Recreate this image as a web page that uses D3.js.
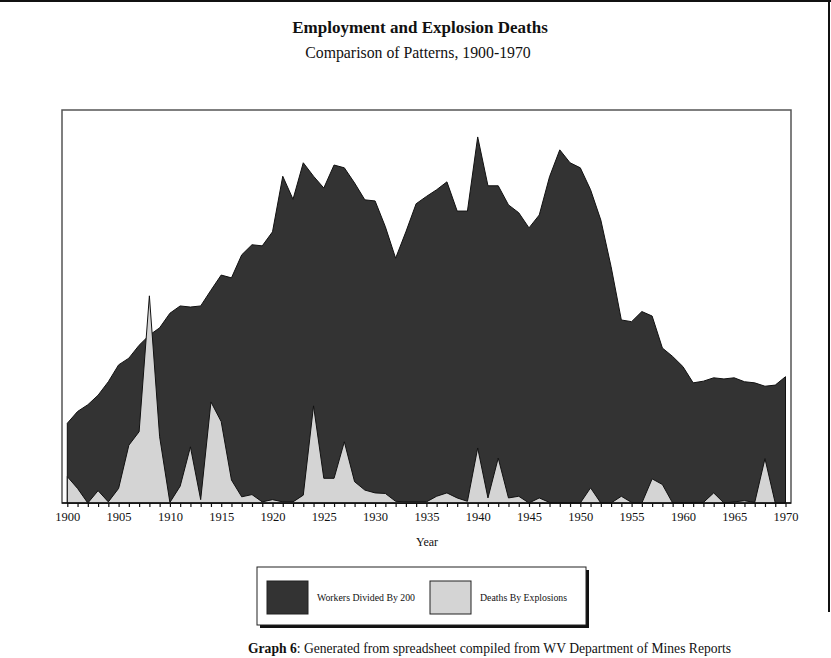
<!DOCTYPE html>
<html>
<head>
<meta charset="utf-8">
<script src="https://cdn.jsdelivr.net/npm/d3@7/dist/d3.min.js"></script>
<style>
  html, body { margin: 0; padding: 0; background: #fff; }
  svg { display: block; }
  text { font-family: "Liberation Serif", "Times New Roman", serif; fill: #111; }
</style>
</head>
<body>
<svg id="chart" width="831" height="658"></svg>
<script>
const years = d3.range(1900, 1971);
const workers = [142,163,175,192,216,246,258,281,299,312,
                 338,351,349,351,379,406,401,442,460,458,
                 483,582,541,606,582,561,602,597,570,540,
                 538,492,436,483,533,546,558,572,520,520,
                 652,565,565,531,517,490,513,581,629,606,
                 597,558,504,421,326,323,341,333,276,261,
                 243,214,217,223,221,223,216,214,208,210,225];
const deaths = [47,26,0,22,2,26,103,127,369,118,
                1,30,100,6,180,145,41,11,15,2,
                6,2,2,14,173,44,44,109,38,23,
                18,17,3,2,2,2,12,18,9,3,
                98,9,80,9,12,0,9,1,0,0,
                0,27,0,0,12,1,0,43,33,0,
                0,1,1,18,0,2,4,1,79,0,0];
const tickYears = d3.range(1900, 1971, 5);
const legendLabels = ["Workers Divided By 200", "Deaths By Explosions"];

const svg = d3.select("#chart");
const box = {left: 62, top: 110, right: 791, bottom: 503};

const x = d3.scaleLinear().domain([1900, 1970]).range([67.3, 785.5]);
const y = d3.scaleLinear().domain([0, 700]).range([box.bottom, box.top]);

// page frame lines
svg.append("line").attr("x1", 0).attr("x2", 831).attr("y1", 1).attr("y2", 1)
  .attr("stroke", "#111").attr("stroke-width", 2);
svg.append("line").attr("x1", 829).attr("x2", 829).attr("y1", 0).attr("y2", 612)
  .attr("stroke", "#111").attr("stroke-width", 2);

// titles
svg.append("text").attr("x", 420).attr("y", 33).attr("text-anchor", "middle")
  .attr("font-size", 17).attr("font-weight", "bold").text("Employment and Explosion Deaths");
svg.append("text").attr("x", 418).attr("y", 58).attr("text-anchor", "middle")
  .attr("font-size", 15.8).text("Comparison of Patterns, 1900-1970");

// plot box
svg.append("rect").attr("x", box.left).attr("y", box.top)
  .attr("width", box.right - box.left).attr("height", box.bottom - box.top)
  .attr("fill", "#fff").attr("stroke", "#555").attr("stroke-width", 1.5);

const areaW = d3.area().x((d, i) => x(years[i])).y0(y(0)).y1(d => y(d));
svg.append("path").datum(workers).attr("d", areaW)
  .attr("fill", "#333").attr("stroke", "#111").attr("stroke-width", 1);
svg.append("path").datum(deaths).attr("d", areaW)
  .attr("fill", "#d4d4d4").attr("stroke", "#111").attr("stroke-width", 1);

// axis
const axis = d3.axisBottom(x).tickValues(years).tickSize(4).tickPadding(5)
  .tickFormat(d => (tickYears.includes(d) ? d : ""));
const gA = svg.append("g").attr("transform", `translate(0,${box.bottom})`).call(axis);
gA.select(".domain").remove();
gA.selectAll(".tick line").attr("stroke", "#111").attr("stroke-width", 1.2);
gA.selectAll(".tick text").attr("font-size", 12.5)
  .attr("font-family", "Liberation Serif, serif").attr("fill", "#111");
svg.append("line").attr("x1", box.left).attr("x2", box.right)
  .attr("y1", box.bottom).attr("y2", box.bottom).attr("stroke", "#111").attr("stroke-width", 1.5);

svg.append("text").attr("x", 427).attr("y", 546).attr("text-anchor", "middle")
  .attr("font-size", 12).text("Year");

// legend
const lg = {left: 257, top: 567, right: 586, bottom: 625};
svg.append("rect").attr("x", lg.left + 3).attr("y", lg.top + 3)
  .attr("width", lg.right - lg.left).attr("height", lg.bottom - lg.top).attr("fill", "#111");
svg.append("rect").attr("x", lg.left).attr("y", lg.top)
  .attr("width", lg.right - lg.left).attr("height", lg.bottom - lg.top)
  .attr("fill", "#fff").attr("stroke", "#222").attr("stroke-width", 1);
const legFills = ["#333", "#d4d4d4"];
const swX = [267, 430];
legendLabels.forEach((lab, i) => {
  svg.append("rect").attr("x", swX[i]).attr("y", 581).attr("width", 41).attr("height", 33)
    .attr("fill", legFills[i]).attr("stroke", "#222").attr("stroke-width", 1);
  svg.append("text").attr("x", swX[i] + 50).attr("y", 601).attr("font-size", 9.8).text(lab);
});

// caption
const cap = svg.append("text").attr("x", 248).attr("y", 653).attr("font-size", 13.6);
cap.append("tspan").attr("font-weight", "bold").text("Graph 6");
cap.append("tspan").text(": Generated from spreadsheet compiled from WV Department of Mines Reports");
</script>
</body>
</html>
